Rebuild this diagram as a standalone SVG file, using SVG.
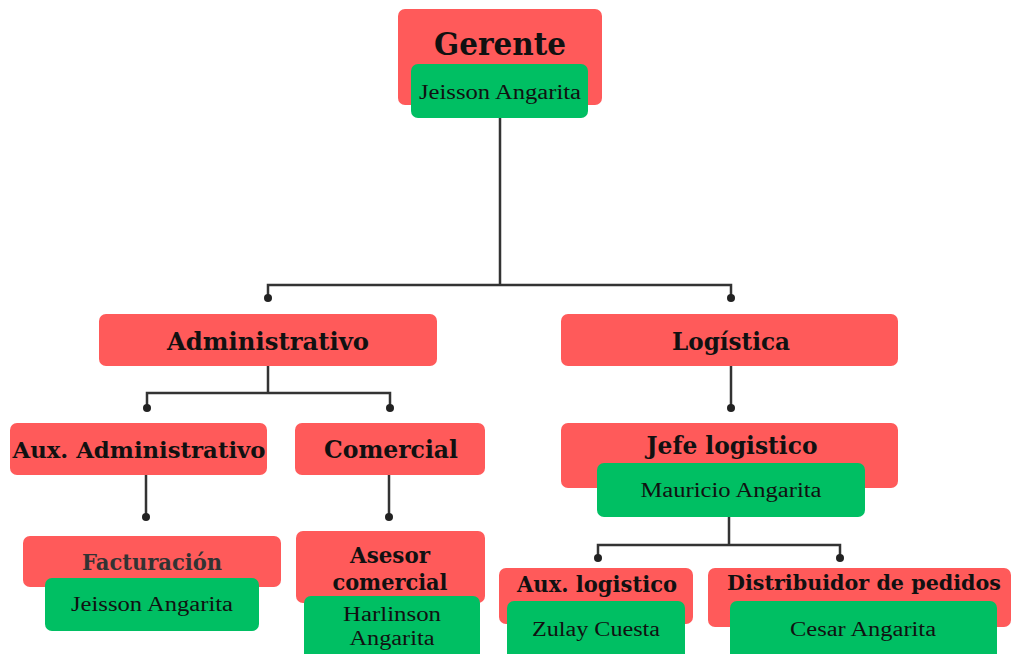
<svg xmlns="http://www.w3.org/2000/svg" width="1014" height="654" viewBox="0 0 1014 654">
<style>
.r{fill:#ff5a5a}
.g{fill:#00bf63}
.t{font-family:"DejaVu Serif","Liberation Serif",serif;font-weight:bold;fill:#111;text-anchor:middle}
.n{font-family:"Liberation Serif","DejaVu Serif",serif;fill:#111;text-anchor:middle;font-size:20px}
.c{fill:none;stroke:#333;stroke-width:2.5}
.d{fill:#222}
</style>
<rect width="1014" height="654" fill="#fff"/>
<g id="connectors">
<path class="c" d="M500 118V285M268 298V285H731V298"/>
<path class="c" d="M268 366V393M147 408V393H390V408"/>
<path class="c" d="M731 366V408"/>
<path class="c" d="M146 475V517M389 475V517"/>
<path class="c" d="M729 517V545M598 558V545H840V558"/>
<circle class="d" cx="268" cy="298" r="4"/><circle class="d" cx="731" cy="298" r="4"/>
<circle class="d" cx="147" cy="408" r="4"/><circle class="d" cx="390" cy="408" r="4"/>
<circle class="d" cx="731" cy="408" r="4"/>
<circle class="d" cx="146" cy="517" r="4"/><circle class="d" cx="389" cy="517" r="4"/>
<circle class="d" cx="598" cy="558" r="4"/><circle class="d" cx="840" cy="558" r="4"/>
</g>
<g id="gerente">
<rect class="r" x="398" y="9" width="204" height="96" rx="7"/>
<text class="t" x="500" y="55" font-size="31" textLength="132" lengthAdjust="spacingAndGlyphs">Gerente</text>
<rect class="g" x="411" y="64" width="177" height="54" rx="7"/>
<text class="n" x="500" y="99" textLength="162" lengthAdjust="spacingAndGlyphs">Jeisson Angarita</text>
</g>
<g id="administrativo">
<rect class="r" x="99" y="314" width="338" height="52" rx="7"/>
<text class="t" x="268" y="350" font-size="24" textLength="202" lengthAdjust="spacingAndGlyphs">Administrativo</text>
</g>
<g id="logistica">
<rect class="r" x="561" y="314" width="337" height="52" rx="7"/>
<text class="t" x="731" y="350" font-size="24" textLength="118" lengthAdjust="spacingAndGlyphs">Logística</text>
</g>
<g id="aux-administrativo">
<rect class="r" x="10" y="423" width="257" height="52" rx="7"/>
<text class="t" x="139" y="458" font-size="23" textLength="253" lengthAdjust="spacingAndGlyphs">Aux. Administrativo</text>
</g>
<g id="comercial">
<rect class="r" x="295" y="423" width="190" height="52" rx="7"/>
<text class="t" x="391" y="458" font-size="24" textLength="134" lengthAdjust="spacingAndGlyphs">Comercial</text>
</g>
<g id="jefe-logistico">
<rect class="r" x="561" y="423" width="337" height="65" rx="7"/>
<text class="t" x="732" y="454" font-size="24" textLength="171" lengthAdjust="spacingAndGlyphs">Jefe logistico</text>
<rect class="g" x="597" y="463" width="268" height="54" rx="7"/>
<text class="n" x="731" y="497" textLength="181" lengthAdjust="spacingAndGlyphs">Mauricio Angarita</text>
</g>
<g id="facturacion">
<rect class="r" x="23" y="536" width="258" height="51" rx="7"/>
<text class="t" x="152" y="570" font-size="22" style="fill:#333" textLength="140" lengthAdjust="spacingAndGlyphs">Facturación</text>
<rect class="g" x="45" y="578" width="214" height="53" rx="7"/>
<text class="n" x="152" y="611" textLength="162" lengthAdjust="spacingAndGlyphs">Jeisson Angarita</text>
</g>
<g id="asesor-comercial">
<rect class="r" x="296" y="531" width="189" height="72" rx="7"/>
<text class="t" x="390" y="563" font-size="23" textLength="80" lengthAdjust="spacingAndGlyphs">Asesor</text>
<text class="t" x="390" y="590" font-size="23" textLength="115" lengthAdjust="spacingAndGlyphs">comercial</text>
<rect class="g" x="304" y="596" width="176" height="64" rx="7"/>
<text class="n" x="392" y="621" textLength="98" lengthAdjust="spacingAndGlyphs">Harlinson</text>
<text class="n" x="392" y="645" textLength="85" lengthAdjust="spacingAndGlyphs">Angarita</text>
</g>
<g id="aux-logistico">
<rect class="r" x="499" y="568" width="194" height="56" rx="7"/>
<text class="t" x="597" y="592" font-size="22" textLength="160" lengthAdjust="spacingAndGlyphs">Aux. logistico</text>
<rect class="g" x="507" y="601" width="178" height="60" rx="7"/>
<text class="n" x="596" y="636" textLength="128" lengthAdjust="spacingAndGlyphs">Zulay Cuesta</text>
</g>
<g id="distribuidor">
<rect class="r" x="708" y="568" width="303" height="59" rx="7"/>
<text class="t" x="864" y="590" font-size="21" textLength="274" lengthAdjust="spacingAndGlyphs">Distribuidor de pedidos</text>
<rect class="g" x="730" y="601" width="267" height="60" rx="7"/>
<text class="n" x="863" y="636" textLength="146" lengthAdjust="spacingAndGlyphs">Cesar Angarita</text>
</g>
</svg>
